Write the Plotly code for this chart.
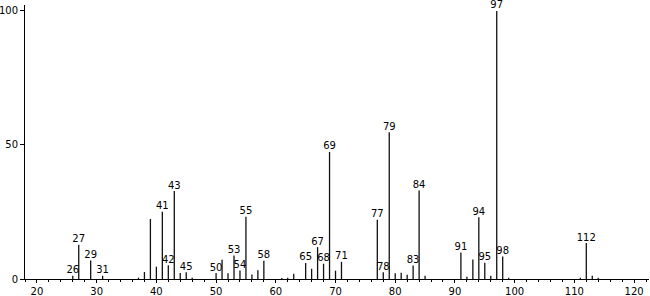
import plotly.graph_objects as go

mz = [26, 27, 29, 31, 37, 38, 39, 40, 41, 42, 43, 44, 45, 46,
      50, 51, 52, 53, 54, 55, 56, 57, 58, 61, 62, 63, 65, 66, 67, 68, 69, 70, 71,
      77, 78, 79, 80, 81, 82, 83, 84, 85, 91, 92, 93, 94, 95, 96, 97, 98, 99,
      111, 112, 113, 114]
intensity = [1.2, 12.8, 6.9, 1.2, 0.5, 2.6, 22.4, 4.6, 25.1, 5.1, 32.8, 2.2, 2.5, 0.5,
             2.2, 7.2, 2.1, 8.8, 3.2, 23.2, 1.7, 3.3, 6.8, 0.4, 0.5, 2.0, 6.0, 3.8, 11.9, 5.7, 47.4, 3.1, 6.4,
             22.1, 2.5, 54.7, 2.1, 2.3, 1.6, 5.0, 33.0, 1.2, 9.9, 0.8, 7.3, 23.0, 6.1, 1.2, 100.0, 8.4, 0.5,
             0.5, 13.4, 1.2, 0.5]
labeled = [26, 27, 29, 31, 41, 42, 43, 45, 50, 53, 54, 55, 58, 65, 67, 68, 69, 71,
           77, 78, 79, 83, 84, 91, 94, 95, 97, 98, 112]
x_ticks = [20, 30, 40, 50, 60, 70, 80, 90, 100, 110, 120]
y_ticks = [0, 50, 100]

xs, ys = [], []
for m, v in zip(mz, intensity):
    xs += [m, m, None]
    ys += [0, v, None]

fig = go.Figure()
fig.add_trace(go.Scatter(x=xs, y=ys, mode="lines",
                         line=dict(color="#111111", width=1.3),
                         hoverinfo="skip", showlegend=False))

lab_x = [m for m in mz if m in labeled]
lab_y = [v for m, v in zip(mz, intensity) if m in labeled]
fig.add_trace(go.Scatter(x=lab_x, y=lab_y, mode="text",
                         text=[str(m) for m in lab_x],
                         textposition="top center",
                         textfont=dict(family="DejaVu Sans", size=10, color="#000000"),
                         showlegend=False, cliponaxis=False))

fig.update_layout(
    width=650, height=296,
    margin=dict(l=25, r=1, t=5, b=17),
    paper_bgcolor="white", plot_bgcolor="white",
    font=dict(family="DejaVu Sans", size=10, color="#000000"),
    xaxis=dict(range=[18, 122.5], tickvals=x_ticks, showgrid=False, zeroline=False,
               showline=True, linecolor="#000000", linewidth=1, automargin=False,
               ticks="outside", ticklen=3, tickcolor="#000000",
               minor=dict(dtick=2, tick0=0, ticks="outside", ticklen=2, tickcolor="#000000"),
               tickfont=dict(size=10)),
    yaxis=dict(range=[0, 102.2], tickvals=y_ticks, showgrid=False, zeroline=False,
               showline=True, linecolor="#000000", linewidth=1, automargin=False,
               ticks="outside", ticklen=4, tickcolor="#000000",
               tickfont=dict(size=10)),
)

fig.write_html("out.html")
